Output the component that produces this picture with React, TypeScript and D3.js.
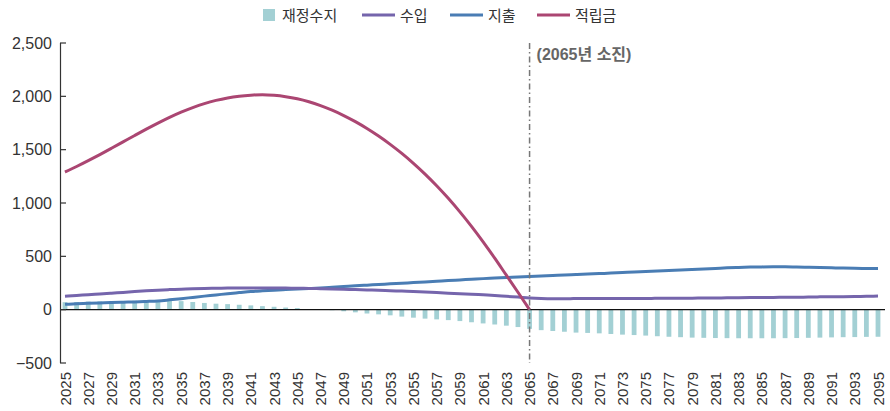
import React from "react";
import * as d3 from "d3";

const years: number[] = d3.range(2025, 2096);

// 재정수지 (bars)
const balance: number[] = [
  70, 72, 76, 78, 80, 82, 84, 85, 86, 85,
  80, 72, 63, 56, 52, 46, 40, 33, 27, 20,
  15, 6, 2, -5, -15, -25, -36, -44, -53, -65,
  -75, -84, -91, -98, -107, -118, -129, -139, -150, -163,
  -180, -192, -200, -207, -215, -218, -222, -228, -234, -238,
  -243, -249, -254, -258, -262, -264, -266, -267, -268, -268,
  -268, -268, -267, -266, -264, -262, -260, -258, -257, -255,
  -254,
];

// 수입
const income: number[] = [
  125, 133, 140, 148, 155, 162, 170, 177, 183, 188,
  192, 196, 199, 201, 202, 203, 203, 203, 203, 202,
  201, 199, 197, 194, 191, 188, 185, 182, 178, 174,
  170, 165, 160, 155, 150, 145, 139, 133, 125, 118,
  110, 105, 103, 103, 104, 104, 104, 105, 105, 105,
  105, 106, 106, 107, 108, 109, 110, 111, 112, 113,
  114, 115, 116, 117, 118, 120, 121, 122, 124, 125,
  127,
];

// 지출
const expense: number[] = [
  50, 55, 59, 63, 67, 70, 73, 77, 82, 92,
  103, 115, 127, 138, 150, 160, 170, 177, 183, 188,
  193, 198, 203, 210, 217, 224, 230, 236, 242, 248,
  254, 260, 266, 273, 279, 285, 291, 296, 301, 306,
  311, 316, 321, 326, 330, 334, 338, 343, 348, 353,
  357, 362, 367, 372, 377, 382, 387, 392, 396, 399,
  401, 402, 402, 400, 398, 395, 392, 390, 388, 386,
  385,
];

// 적립금 (2025–2065)
const reserveYears: number[] = d3.range(2025, 2066);
const reserve: number[] = [
  1290, 1342, 1397, 1454, 1513, 1573, 1633, 1692, 1749, 1803,
  1852, 1895, 1932, 1962, 1985, 2001, 2011, 2016, 2010, 1997,
  1977, 1949, 1913, 1870, 1820, 1763, 1699, 1628, 1550, 1465,
  1372, 1271, 1162, 1044, 917, 781, 636, 483, 323, 163,
  0,
];

const yTicks: number[] = [-500, 0, 500, 1000, 1500, 2000, 2500];
const xTickYears: number[] = d3.range(2025, 2096, 2);
const depletionYear = 2065;
const depletionLabel = "(2065년 소진)";

const legendItems = [
  { label: "재정수지", type: "rect", color: "#a3d0d4" },
  { label: "수입", type: "line", color: "#7565ac" },
  { label: "지출", type: "line", color: "#4a7db4" },
  { label: "적립금", type: "line", color: "#ab4672" },
];

const W = 890;
const H = 411;
const FONT = "'Liberation Sans', Arial, 'Noto Sans CJK KR', sans-serif";

export default function App() {
  const x = d3.scaleLinear().domain([2025, 2095]).range([65, 878]);
  const y = d3.scaleLinear().domain([-500, 2500]).range([363, 43]);
  const barW = 4.8;

  const line = d3
    .line<[number, number]>()
    .x((d) => x(d[0]))
    .y((d) => y(d[1]))
    .curve(d3.curveMonotoneX);

  const incomePath = line(years.map((yr, i) => [yr, income[i]]));
  const expensePath = line(years.map((yr, i) => [yr, expense[i]]));
  const reservePath = line(reserveYears.map((yr, i) => [yr, reserve[i]]));

  const legendX = [263, 362, 450, 537];

  return (
    <svg
      width={W}
      height={H}
      style={{ position: "absolute", left: 0, top: 0, background: "#fff" }}
      fontFamily={FONT}
    >
      {/* legend */}
      {legendItems.map((it, i) => (
        <g key={it.label} transform={`translate(${legendX[i]},15)`}>
          {it.type === "rect" ? (
            <rect x={0} y={-6} width={12} height={12} fill={it.color} />
          ) : (
            <line x1={0} x2={33} y1={0} y2={0} stroke={it.color} strokeWidth={3} />
          )}
          <text
            x={it.type === "rect" ? 19 : 38}
            y={5.5}
            fontSize={15}
            fill="#333"
          >
            {it.label}
          </text>
        </g>
      ))}

      {/* bars */}
      {years.map((yr, i) => {
        const v = balance[i];
        const y0 = y(0);
        const y1 = y(v);
        return (
          <rect
            key={yr}
            x={x(yr) - barW / 2}
            y={Math.min(y0, y1)}
            width={barW}
            height={Math.abs(y1 - y0)}
            fill="#a3d0d4"
          />
        );
      })}

      {/* zero line */}
      <line x1={60} x2={885} y1={y(0)} y2={y(0)} stroke="#111" strokeWidth={1.2} />

      {/* y axis */}
      <line x1={60.5} x2={60.5} y1={y(2500)} y2={y(-500)} stroke="#333" strokeWidth={1.2} />
      {yTicks.map((t) => (
        <g key={t}>
          <line x1={60} x2={66} y1={y(t)} y2={y(t)} stroke="#333" strokeWidth={1.2} />
          <text
            x={52}
            y={y(t) + 5.5}
            textAnchor="end"
            fontSize={16}
            fill="#333"
          >
            {t < 0 ? "\u2212" + d3.format(",")(-t) : d3.format(",")(t)}
          </text>
        </g>
      ))}

      {/* x tick labels */}
      {xTickYears.map((yr) => (
        <text
          key={yr}
          transform={`translate(${x(yr) + 5.5},372) rotate(-90)`}
          textAnchor="end"
          fontSize={15}
          fill="#333"
        >
          {yr}
        </text>
      ))}

      {/* lines */}
      <path d={expensePath ?? ""} fill="none" stroke="#4a7db4" strokeWidth={3} />
      <path d={incomePath ?? ""} fill="none" stroke="#7565ac" strokeWidth={3} />
      <path d={reservePath ?? ""} fill="none" stroke="#ab4672" strokeWidth={3} />

      {/* depletion marker */}
      <line
        x1={x(depletionYear)}
        x2={x(depletionYear)}
        y1={y(2500)}
        y2={y(-500)}
        stroke="#777"
        strokeWidth={1.5}
        strokeDasharray="6 3 1.5 3"
      />
      <text x={x(depletionYear) + 7} y={60} fontSize={16} fontWeight="bold" fill="#666">
        {depletionLabel}
      </text>
    </svg>
  );
}
